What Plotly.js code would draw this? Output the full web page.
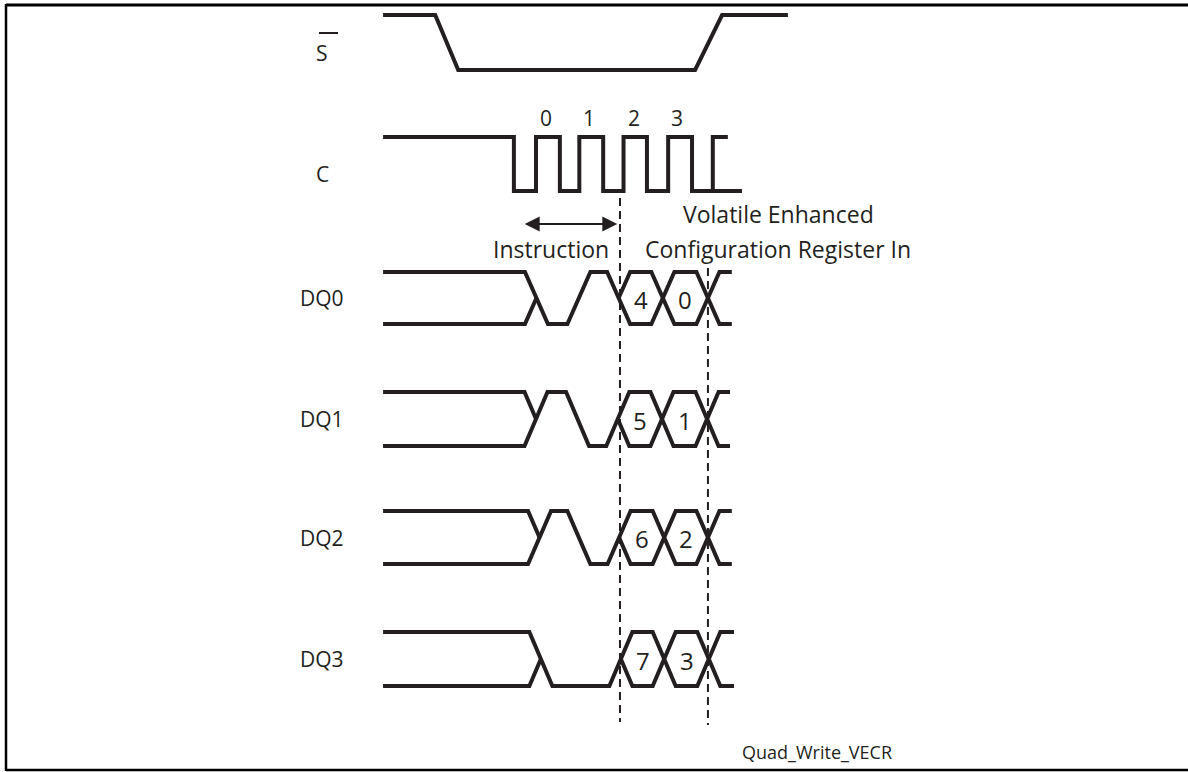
<!DOCTYPE html>
<html><head><meta charset="utf-8">
<script src="https://cdn.plot.ly/plotly-3.0.1.min.js"></script>
<style>html,body{margin:0;padding:0;background:#fff}</style>
</head><body><div id="chart" style="width:1188px;height:772px"></div>
<script>
// ---- DATA (time in clock cycles, 0 = first rising edge of C; levels 0/1) ----
const signalNames = ['S', 'C', 'DQ0', 'DQ1', 'DQ2', 'DQ3'];

// Chip select S# : [time, level]
const sTimes  = [-3.46, -2.28, -1.76, 3.60, 4.21, 5.70];
const sLevels = [1, 1, 0, 0, 1, 1];

// Clock C
const cStart = -3.46;
const cStartLevel = 1;
const cEdges = [-0.50, 0.00, 0.54, 0.98, 1.52, 1.98, 2.51, 2.99, 3.53, 4.00];
const cHighEnd = 4.34;
const cLowEnd = 4.66;
const clockLabels = ['0', '1', '2', '3'];
const clockLabelTimes = [0.23, 1.20, 2.21, 3.19];

// DQ lines: 'X' = don't care (bus), 0/1 = instruction bits, 'D' = data cell
const dqStart = -3.46;
const dq0States = ['X', 0, 1, 'D', 'D', 'X'];
const dq0Trans  = [0.01, 0.97, 1.87, 2.87, 3.89];
const dq0Cells  = ['4', '0'];
const dq1States = ['X', 1, 0, 'D', 'D', 'X'];
const dq1Trans  = [0.00, 0.94, 1.85, 2.85, 3.87];
const dq1Cells  = ['5', '1'];
const dq2States = ['X', 1, 0, 'D', 'D', 'X'];
const dq2Trans  = [0.08, 0.97, 1.88, 2.90, 3.89];
const dq2Cells  = ['6', '2'];
const dq3States = ['X', 0, 0, 'D', 'D', 'X'];
const dq3Trans  = [0.11, 0.97, 1.92, 2.90, 3.91];
const dq3Cells  = ['7', '3'];
const dqEnds = [4.43, 4.39, 4.43, 4.48];

// Reference markers (dashed)
const markerTimes = [1.90, 3.89];

// Phase annotations
const instructionSpan = [-0.29, 1.84];
const instructionLabel = 'Instruction';
const dataLabel = ['Volatile Enhanced', 'Configuration Register In'];
const figureId = 'Quad_Write_VECR';

// ---- LAYOUT / STYLE ----
const W = 1188, H = 772;
const X0PX = 536, PXPC = 44.2;
const INK = '#231f20';
const FONT = '"Open Sans", "Noto Sans", sans-serif';
const HW = 0.26; // half transition width (cycles)
const lanes = { S:[15,70], C:[137,191], DQ0:[272,324], DQ1:[392,446], DQ2:[511,564], DQ3:[632,686] };
function yOf(lane, lvl){ const [hi, lo] = lanes[lane]; return lo - lvl*(lo-hi); }
function px2t(px){ return (px - X0PX)/PXPC; }

function busSegments(states, trans, t0, t1, hw){
  const segs = []; const n = states.length;
  const isNum = s => typeof s === 'number';
  const same = i => isNum(states[i]) && isNum(states[i+1]) && states[i] === states[i+1];
  for (let i = 0; i < n; i++){
    const a = i === 0 ? t0 : (same(i-1) ? trans[i-1] : trans[i-1] + hw);
    const b = i === n-1 ? t1 : (same(i) ? trans[i] : trans[i] - hw);
    const s = states[i];
    if (isNum(s)) segs.push([[a,s],[b,s]]);
    else { segs.push([[a,1],[b,1]]); segs.push([[a,0],[b,0]]); }
    if (i < n-1){
      const u = states[i+1], c = trans[i];
      if (isNum(s) && isNum(u)) { if (s !== u) segs.push([[c-hw,s],[c+hw,u]]); }
      else if (!isNum(s) && isNum(u)) { segs.push([[c-hw,1-u],[c+hw,u]]); segs.push([[c-hw,u],[c,0.5]]); }
      else if (isNum(s) && !isNum(u)) { segs.push([[c-hw,s],[c+hw,1-s]]); segs.push([[c,0.5],[c+hw,s]]); }
      else { segs.push([[c-hw,0],[c+hw,1]]); segs.push([[c-hw,1],[c+hw,0]]); }
    }
  }
  return segs;
}
function chain(segs){
  const polys = [];
  const eq = (p,q) => Math.abs(p[0]-q[0]) < 1e-9 && Math.abs(p[1]-q[1]) < 1e-9;
  segs.forEach(([p,q]) => {
    let found = null;
    for (let k = polys.length-1; k >= 0; k--){ if (eq(polys[k][polys[k].length-1], p)) { found = polys[k]; break; } }
    if (found) found.push(q); else polys.push([p,q]);
  });
  return polys;
}
function polysToTrace(polys, lane){
  const x = [], y = [];
  polys.forEach((pl, i) => {
    if (i > 0){ x.push(null); y.push(null); }
    pl.forEach(p => { x.push(p[0]); y.push(yOf(lane, p[1])); });
  });
  return { x, y, type:'scatter', mode:'lines', hoverinfo:'skip', connectgaps:false,
           line:{ color:INK, width:4 } };
}

const traces = [];
// S
traces.push({ x:sTimes, y:sLevels.map(l => yOf('S', l)), type:'scatter', mode:'lines',
  hoverinfo:'skip', line:{ color:INK, width:4 } });
// C
(function(){
  const x = [cStart], y = [yOf('C', cStartLevel)];
  let lvl = cStartLevel;
  cEdges.forEach(e => { x.push(e); y.push(yOf('C', lvl)); lvl = 1 - lvl; x.push(e); y.push(yOf('C', lvl)); });
  x.push(cHighEnd); y.push(yOf('C', lvl));
  traces.push({ x, y, type:'scatter', mode:'lines', hoverinfo:'skip', line:{ color:INK, width:4 } });
  const last = cEdges[cEdges.length-1];
  traces.push({ x:[last, cLowEnd], y:[yOf('C',0), yOf('C',0)], type:'scatter', mode:'lines',
    hoverinfo:'skip', line:{ color:INK, width:4 } });
})();
// DQ
const dqDefs = [
  ['DQ0', dq0States, dq0Trans, dq0Cells],
  ['DQ1', dq1States, dq1Trans, dq1Cells],
  ['DQ2', dq2States, dq2Trans, dq2Cells],
  ['DQ3', dq3States, dq3Trans, dq3Cells]
];
const annotations = [];
dqDefs.forEach(([lane, st, tr, cells], i) => {
  traces.push(polysToTrace(chain(busSegments(st, tr, dqStart, dqEnds[i], HW)), lane));
  const n = tr.length;
  annotations.push({ x:(tr[n-3]+tr[n-2])/2, y:yOf(lane,0.5)+1, xref:'x', yref:'y', text:cells[0],
    showarrow:false, font:{ family:FONT, size:24, color:INK } });
  annotations.push({ x:(tr[n-2]+tr[n-1])/2, y:yOf(lane,0.5)+1, xref:'x', yref:'y', text:cells[1],
    showarrow:false, font:{ family:FONT, size:24, color:INK } });
});
// dashed markers
const markerY = [[198, 722], [268, 725]];
markerTimes.forEach((t, i) => {
  traces.push({ x:[t, t], y:markerY[i], type:'scatter', mode:'lines', hoverinfo:'skip',
    line:{ color:INK, width:2, dash:'8px,5px' } });
});

// signal name labels
const labelY = [53, 174, 298, 419, 538, 659];
signalNames.forEach((nm, i) => {
  annotations.push({ x:px2t(322), y:labelY[i], xref:'x', yref:'y', text:nm, showarrow:false,
    font:{ family:FONT, size:21, color:INK } });
});
// clock numbers
clockLabels.forEach((lb, i) => {
  annotations.push({ x:clockLabelTimes[i], y:118, xref:'x', yref:'y', text:lb, showarrow:false,
    font:{ family:FONT, size:21, color:INK } });
});
// instruction arrow
annotations.push({ x:instructionSpan[1], y:224, ax:instructionSpan[0], ay:224, xref:'x', yref:'y',
  axref:'x', ayref:'y', text:'', showarrow:true, arrowside:'end+start', arrowhead:2, startarrowhead:2,
  arrowsize:1.5, startarrowsize:1.5, arrowwidth:2, arrowcolor:INK, standoff:0, startstandoff:0 });
annotations.push({ x:px2t(551), y:249, xref:'x', yref:'y', text:instructionLabel, showarrow:false,
  font:{ family:FONT, size:23, color:INK } });
annotations.push({ x:px2t(778), y:214, xref:'x', yref:'y', text:dataLabel[0], showarrow:false,
  font:{ family:FONT, size:23, color:INK } });
annotations.push({ x:px2t(778), y:249, xref:'x', yref:'y', text:dataLabel[1], showarrow:false,
  font:{ family:FONT, size:23, color:INK } });
annotations.push({ x:px2t(817), y:752, xref:'x', yref:'y', text:figureId, showarrow:false,
  font:{ family:FONT, size:18, color:INK } });

const shapes = [
  // frame
  { type:'line', xref:'paper', yref:'y', x0:6/W, x1:1, y0:5, y1:5, line:{ color:'#000', width:3 } },
  { type:'line', xref:'paper', yref:'y', x0:6/W, x1:6/W, y0:4, y1:771, line:{ color:'#000', width:2.5 } },
  { type:'line', xref:'paper', yref:'y', x0:6/W, x1:1, y0:770, y1:770, line:{ color:'#000', width:2.5 } },
  // overbar on S
  { type:'line', xref:'paper', yref:'y', x0:319/W, x1:338/W, y0:33, y1:33, line:{ color:INK, width:2 } }
];

const layout = {
  width:W, height:H, margin:{ l:0, r:0, t:0, b:0 },
  paper_bgcolor:'#fff', plot_bgcolor:'#fff', showlegend:false,
  xaxis:{ range:[px2t(0), px2t(W)], visible:false, fixedrange:true },
  yaxis:{ range:[H, 0], visible:false, fixedrange:true },
  annotations, shapes
};
Plotly.newPlot('chart', traces, layout, { staticPlot:true, displayModeBar:false });
</script></body></html>
